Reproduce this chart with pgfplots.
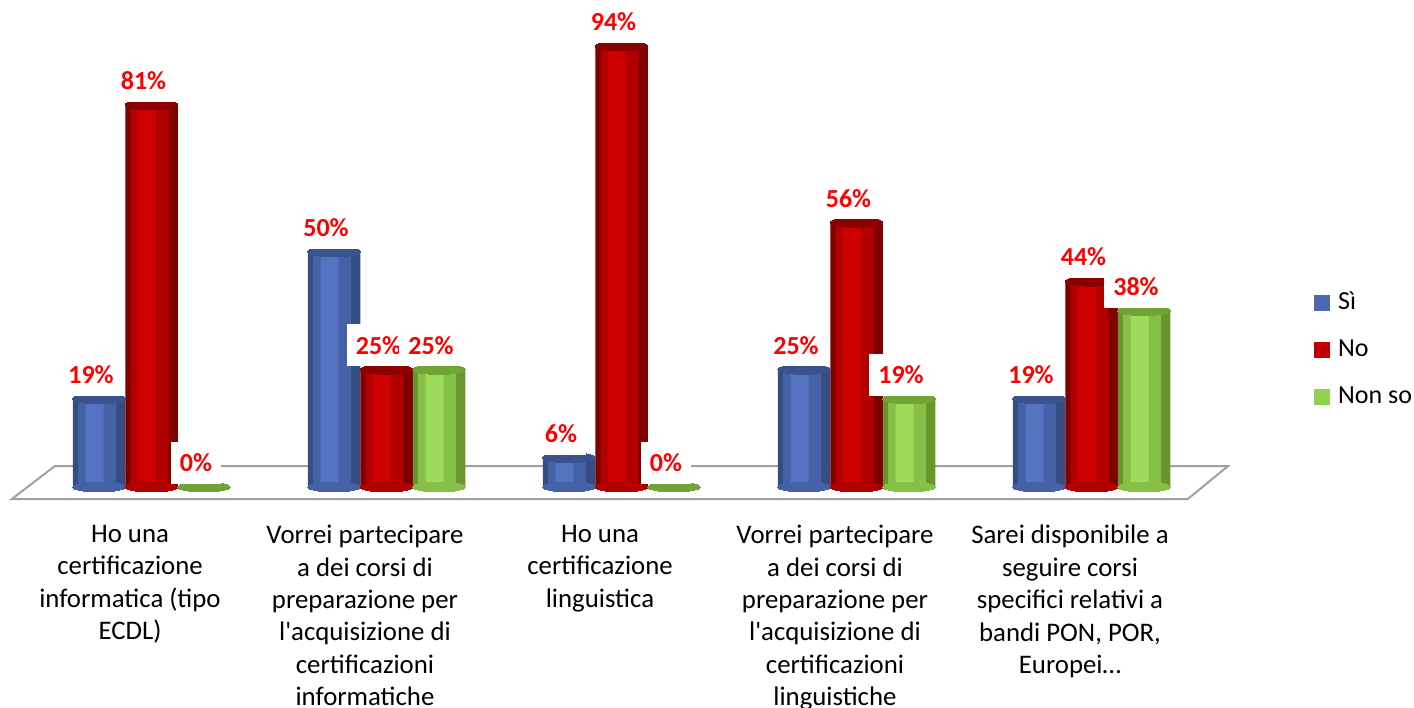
\documentclass[border=0pt]{standalone}
\usepackage{fontspec}
\setmainfont{Carlito}[Ligatures=TeXOff]
\usepackage{pgfplots}
\usepackage{pgfplotstable}
\pgfplotsset{compat=1.18}
\definecolor{bluA}{RGB}{54,77,132}
\definecolor{bluB}{RGB}{70,98,166}
\definecolor{bluC}{RGB}{84,116,194}
\definecolor{bluT}{RGB}{58,82,142}
\definecolor{redA}{RGB}{128,0,0}
\definecolor{redB}{RGB}{178,0,0}
\definecolor{redC}{RGB}{206,0,0}
\definecolor{redT}{RGB}{140,0,0}
\definecolor{grnA}{RGB}{104,150,44}
\definecolor{grnB}{RGB}{134,192,70}
\definecolor{grnC}{RGB}{156,220,90}
\definecolor{grnT}{RGB}{112,164,54}
\definecolor{legB}{RGB}{76,104,175}
\definecolor{legR}{RGB}{192,0,0}
\definecolor{legG}{RGB}{146,208,80}
\definecolor{floorc}{RGB}{160,160,160}
\definecolor{lblred}{RGB}{255,0,0}
\pgfplotstableread{
x si no nonso
0 18.75 81.25 0
1 50    25    25
2 6.25  93.75 0
3 25    56.25 18.75
4 18.75 43.75 37.5
}\datatable
\pgfplotsset{
  cap/.style={only marks, forget plot, color=#1, mark=*, mark size=13.125pt,
    mark options={yscale=0.19, draw=#1, fill=#1, line width=0pt}},
}
\begin{document}
\begin{tikzpicture}
\begin{axis}[
  scale only axis,
  width=611pt, height=244.6pt,
  xmin=-0.6, xmax=4.6, ymin=-4, ymax=100,
  clip=false,
  axis line style={draw=none},
  tick style={draw=none},
  ytick=\empty,
  xtick={0,1,2,3,4},
  xticklabels={
    {Ho una\\certificazione\\informatica (tipo\\ECDL)},
    {Vorrei partecipare\\a dei corsi di\\preparazione per\\l'acquisizione di\\certificazioni\\informatiche},
    {Ho una\\certificazione\\linguistica},
    {Vorrei partecipare\\a dei corsi di\\preparazione per\\l'acquisizione di\\certificazioni\\linguistiche},
    {Sarei disponibile a\\seguire corsi\\specifici relativi a\\bandi PON, POR,\\Europei…}},
  xticklabel style={align=center, font=\fontsize{13.4}{16.2}\selectfont, inner sep=0pt, yshift=-9.5pt, xshift=-10.75pt, anchor=north},
  /pgf/number format/assume math mode=true,
  every node near coord/.append style={font=\bfseries\fontsize{13}{15}\selectfont, text=lblred, fill=white, inner xsep=4.5pt, inner ysep=6pt, xshift=-4pt, yshift=1.5pt, anchor=south},
  legend style={at={(1.0665,0.319)}, anchor=west, draw=none, fill=none, inner sep=0pt,
    font=\fontsize{13}{15}\selectfont, row sep=12.5pt, column sep=4pt,
    nodes={inner sep=0pt, text height=9pt, text depth=2pt}},
  legend cell align=left,
]
\draw[floorc, line width=1pt] (axis cs:-0.594,-2.55) -- (axis cs:-0.411,4.46) -- (axis cs:4.581,4.46) -- (axis cs:4.41,-2.55) -- cycle;
% Si
\addplot[cap=bluB] table[x expr=\thisrow{x}-0.2234, y expr=0] {\datatable};
\addplot[ybar, draw=none, fill=bluA, bar width=26.25pt, bar shift=-26.25pt,
  legend image code/.code={\fill[legB] (0pt,-4pt) rectangle (8pt,4pt);}]
  table[x=x,y=si] {\datatable};
\addplot[ybar, forget plot, draw=none, fill=bluB, bar width=19pt, bar shift=-27.25pt] table[x=x,y=si] {\datatable};
\addplot[ybar, forget plot, draw=none, fill=bluC, bar width=9pt, bar shift=-28.5pt] table[x=x,y=si] {\datatable};
\addplot[cap=bluT, nodes near coords={\pgfmathprintnumber[fixed,precision=0]{\pgfplotspointmeta}\%}]
  table[x expr=\thisrow{x}-0.2234, y=si] {\datatable};
% No
\addplot[cap=redB] table[x=x, y expr=0] {\datatable};
\addplot[ybar, draw=none, fill=redA, bar width=26.25pt, bar shift=0pt,
  legend image code/.code={\fill[legR] (0pt,-4pt) rectangle (8pt,4pt);}]
  table[x=x,y=no] {\datatable};
\addplot[ybar, forget plot, draw=none, fill=redB, bar width=19pt, bar shift=-1pt] table[x=x,y=no] {\datatable};
\addplot[ybar, forget plot, draw=none, fill=redC, bar width=9pt, bar shift=-2.25pt] table[x=x,y=no] {\datatable};
\addplot[cap=redT, nodes near coords={\pgfmathprintnumber[fixed,precision=0]{\pgfplotspointmeta}\%}]
  table[x=x, y=no] {\datatable};
% Non so
\addplot[cap=grnB] table[x expr=\thisrow{x}+0.2234, y expr=0] {\datatable};
\addplot[ybar, draw=none, fill=grnA, bar width=26.25pt, bar shift=26.25pt,
  legend image code/.code={\fill[legG] (0pt,-4pt) rectangle (8pt,4pt);}]
  table[x=x,y=nonso] {\datatable};
\addplot[ybar, forget plot, draw=none, fill=grnB, bar width=19pt, bar shift=25.25pt] table[x=x,y=nonso] {\datatable};
\addplot[ybar, forget plot, draw=none, fill=grnC, bar width=9pt, bar shift=24pt] table[x=x,y=nonso] {\datatable};
\addplot[cap=grnT, nodes near coords={\pgfmathprintnumber[fixed,precision=0]{\pgfplotspointmeta}\%}]
  table[x expr=\thisrow{x}+0.2234, y=nonso] {\datatable};
\legend{Sì,No,Non so}
\coordinate (O) at (axis cs:0,0);
\end{axis}
\pgfresetboundingbox
\path[use as bounding box] ([shift={(-75.75pt,-110pt)}]O) rectangle ([shift={(631.25pt,243.5pt)}]O);
\end{tikzpicture}
\end{document}
